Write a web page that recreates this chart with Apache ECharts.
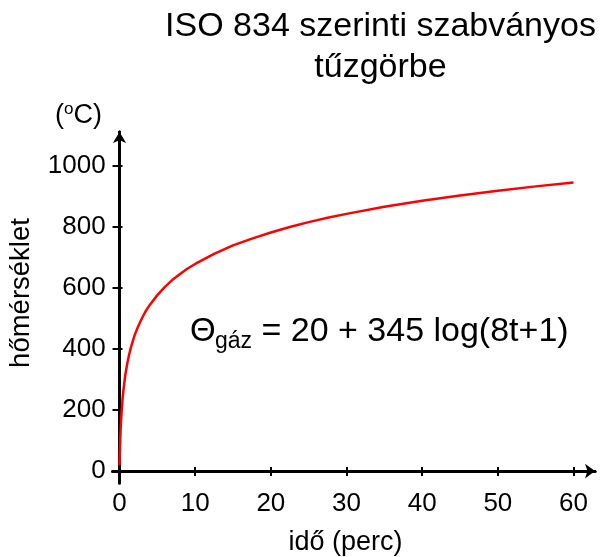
<!DOCTYPE html>
<html>
<head>
<meta charset="utf-8">
<script src="https://cdn.jsdelivr.net/npm/echarts@6/dist/echarts.min.js"></script>
<style>
  html, body { margin: 0; padding: 0; background: #fff; }
  #chart { width: 600px; height: 557px; }
</style>
</head>
<body>
<div id="chart"></div>
<script>
// ISO 834 standard fire curve: time (min) and gas temperature (°C)
const timeMin = [0, 0.02, 0.05, 0.1, 0.15, 0.2, 0.3, 0.4, 0.5, 0.75, 1, 1.25, 1.5, 2, 2.5, 3, 3.5, 4, 5, 6, 7, 8, 9, 10, 12.5, 15, 17.5, 20, 22.5, 25, 27.5, 30, 35, 40, 45, 50, 55, 60];
const tempC   = [20, 42, 70, 108, 138, 163, 203, 235, 261, 312, 349, 379, 404, 445, 476, 502, 525, 544, 576, 603, 626, 645, 663, 678, 711, 739, 761, 781, 799, 815, 829, 842, 865, 885, 902, 918, 932, 945];

const xTicks = [0, 10, 20, 30, 40, 50, 60];
const yTicks = [0, 200, 400, 600, 800, 1000];

const FONT = 'Liberation Sans, Arial, sans-serif';
const INK = '#000';

const chart = echarts.init(document.getElementById('chart'), null, { renderer: 'canvas' });

const lineStyle = { color: INK, width: 3 };
const tickStyle = { color: INK, width: 2 };
const labelStyle = { color: INK, fontSize: 26, fontFamily: FONT, formatter: v => String(v) };

chart.setOption({
  animation: false,
  backgroundColor: '#fff',
  grid: {
    left: 112.7, right: 5, top: 132, bottom: 74,
    containLabel: false, outerBoundsMode: 'none'
  },
  xAxis: [
    {
      type: 'value', min: -0.9, max: 62.84, position: 'bottom',
      axisLine: { onZero: true, lineStyle, symbol: ['none', 'arrow'], symbolSize: [11, 10] },
      axisTick: { customValues: xTicks, length: 5, lineStyle: tickStyle },
      axisLabel: { customValues: xTicks, margin: 8, ...labelStyle },
      splitLine: { show: false }
    },
    {
      type: 'value', min: -0.9, max: 62.84, position: 'top',
      axisLine: { onZero: true, lineStyle },
      axisTick: { customValues: xTicks, length: 4, lineStyle: tickStyle },
      axisLabel: { show: false },
      splitLine: { show: false }
    }
  ],
  yAxis: [
    {
      type: 'value', min: -39, max: 1110, position: 'left',
      axisLine: { onZero: true, lineStyle, symbol: ['none', 'arrow'], symbolSize: [10, 11] },
      axisTick: { customValues: yTicks, length: 7, lineStyle: tickStyle },
      axisLabel: { customValues: yTicks, margin: 7, ...labelStyle },
      splitLine: { show: false }
    },
    {
      type: 'value', min: -39, max: 1110, position: 'right',
      axisLine: { onZero: true, lineStyle },
      axisTick: { customValues: yTicks, length: 3, lineStyle: tickStyle },
      axisLabel: { show: false },
      splitLine: { show: false }
    }
  ],
  series: [{
    type: 'line',
    xAxisIndex: 0, yAxisIndex: 0,
    data: timeMin.map((t, i) => [t, tempC[i]]),
    showSymbol: false,
    smooth: false,
    lineStyle: { color: '#ff0000', width: 2.5, join: 'round' },
    z: 5
  }],
  graphic: [
    { type: 'text', x: 380.5, y: 26.5, style: { text: 'ISO 834 szerinti szabványos', fontSize: 34, fontFamily: FONT, fill: INK, align: 'center', verticalAlign: 'middle' } },
    { type: 'text', x: 380.5, y: 68, style: { text: 'tűzgörbe', fontSize: 34, fontFamily: FONT, fill: INK, align: 'center', verticalAlign: 'middle' } },
    // unit label above the y axis
    { type: 'text', x: 55, y: 115.5, style: { text: '(', fontSize: 27, fontFamily: FONT, fill: INK, align: 'left', verticalAlign: 'middle' } },
    { type: 'text', x: 64, y: 109, style: { text: 'o', fontSize: 17, fontFamily: FONT, fill: INK, align: 'left', verticalAlign: 'middle' } },
    { type: 'text', x: 73.5, y: 115.5, style: { text: 'C)', fontSize: 27, fontFamily: FONT, fill: INK, align: 'left', verticalAlign: 'middle' } },
    // axis titles
    { type: 'text', x: 21, y: 293, rotation: Math.PI / 2, style: { text: 'hőmérséklet', fontSize: 27.5, fontFamily: FONT, fill: INK, align: 'center', verticalAlign: 'middle' } },
    { type: 'text', x: 345.5, y: 543, style: { text: 'idő (perc)', fontSize: 27, fontFamily: FONT, fill: INK, align: 'center', verticalAlign: 'middle' } },
    // curve equation
    { type: 'text', x: 190, y: 331.5, style: { text: 'Θ', fontSize: 33, fontFamily: FONT, fill: INK, align: 'left', verticalAlign: 'middle' } },
    { type: 'text', x: 215, y: 342, style: { text: 'gáz', fontSize: 23, fontFamily: FONT, fill: INK, align: 'left', verticalAlign: 'middle' } },
    { type: 'text', x: 252, y: 331.5, style: { text: ' = 20 + 345 log(8t+1)', fontSize: 34, fontFamily: FONT, fill: INK, align: 'left', verticalAlign: 'middle' } }
  ]
});
</script>
</body>
</html>
